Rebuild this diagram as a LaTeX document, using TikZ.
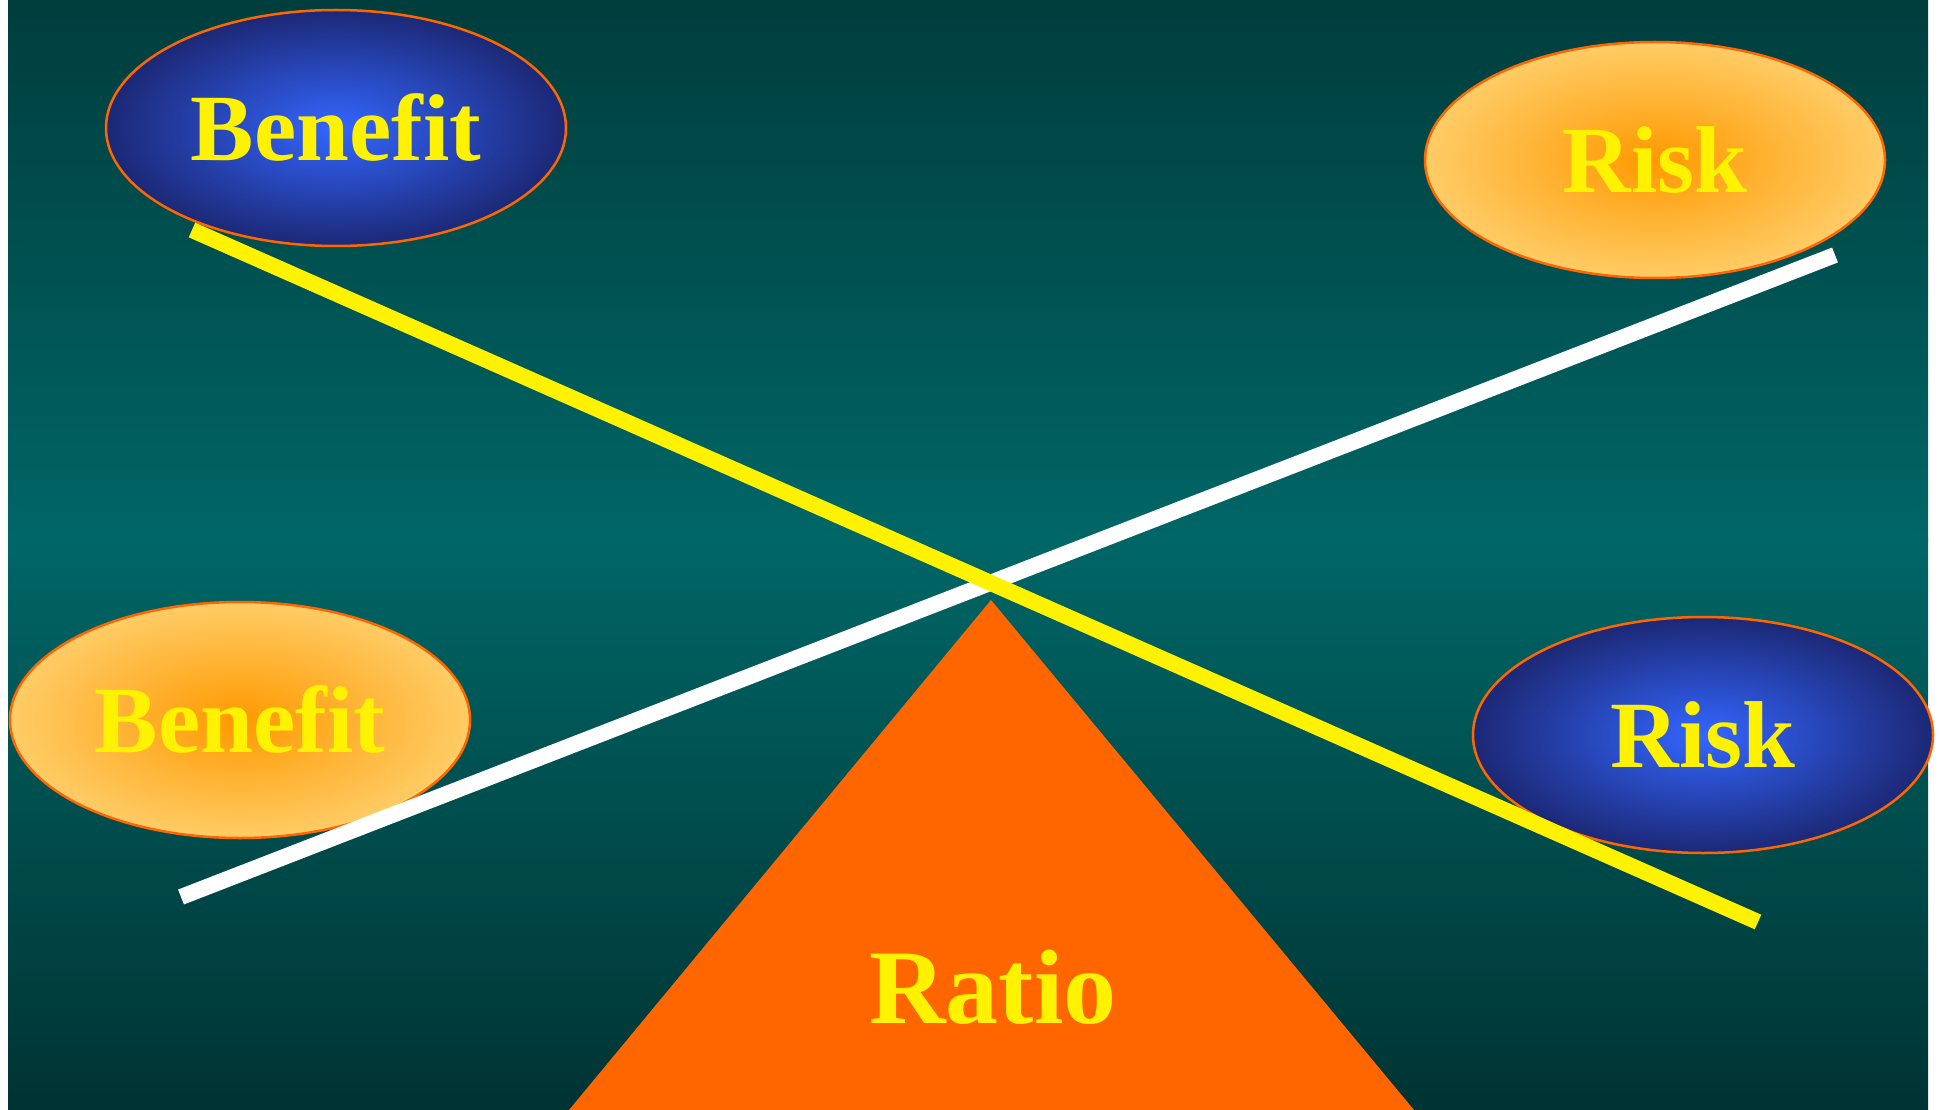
\documentclass[tikz,border=0pt]{standalone}
\usepackage{fontspec}
\setmainfont{Liberation Serif}
\usetikzlibrary{shapes.geometric}

\definecolor{bgtop}{RGB}{0,61,61}
\definecolor{bgmid}{RGB}{0,102,102}
\definecolor{bgbot}{RGB}{0,51,51}
\definecolor{bluein}{RGB}{51,102,255}
\definecolor{blueout}{RGB}{28,40,118}
\definecolor{orangein}{RGB}{255,153,0}
\definecolor{orangeout}{RGB}{255,204,102}
\definecolor{fulcrum}{RGB}{255,102,0}

\begin{document}
\begin{tikzpicture}[
    x=1pt, y=-1pt,
    weight/.style={ellipse, draw=fulcrum, line width=2.5pt, inner sep=0pt,
        minimum width=460pt, minimum height=236pt, text=yellow,
        font=\bfseries\fontsize{95}{100}\selectfont},
    blueweight/.style={weight, inner color=bluein, outer color=blueout},
    orangeweight/.style={weight, inner color=orangein, outer color=orangeout},
    beam/.style={line width=16pt}
]
\useasboundingbox (0,0) rectangle (1940,1110);

% background
\shade[top color=bgtop, bottom color=bgmid] (8,0) rectangle (1928,540);
\shade[top color=bgmid, bottom color=bgbot] (8,539) rectangle (1928,1110);

% fulcrum
\coordinate (apex) at (991,600);
\coordinate (baseL) at (569,1110);
\coordinate (baseR) at (1414,1110);
\fill[fulcrum] (apex) -- (baseR) -- (baseL) -- cycle;
\node[anchor=base, text=yellow, font=\bfseries\fontsize{106}{110}\selectfont] (ratio) at (993,1023) {Ratio};

% weights
\node[blueweight] (benefitup) at (336,128) {Benefit};
\node[orangeweight] (riskup) at (1655,160) {Risk};
\node[orangeweight] (benefitdown) at (240,720) {Benefit};
\node[blueweight] (riskdown) at (1703,735) {Risk};

% beams
\coordinate (w1) at (181,897);
\coordinate (w2) at (1835,255);
\coordinate (y1) at (192,230);
\coordinate (y2) at (1758,922);
\draw[beam, white] (w1) -- (w2);
\draw[beam, yellow] (y1) -- (y2);

\end{tikzpicture}
\end{document}
